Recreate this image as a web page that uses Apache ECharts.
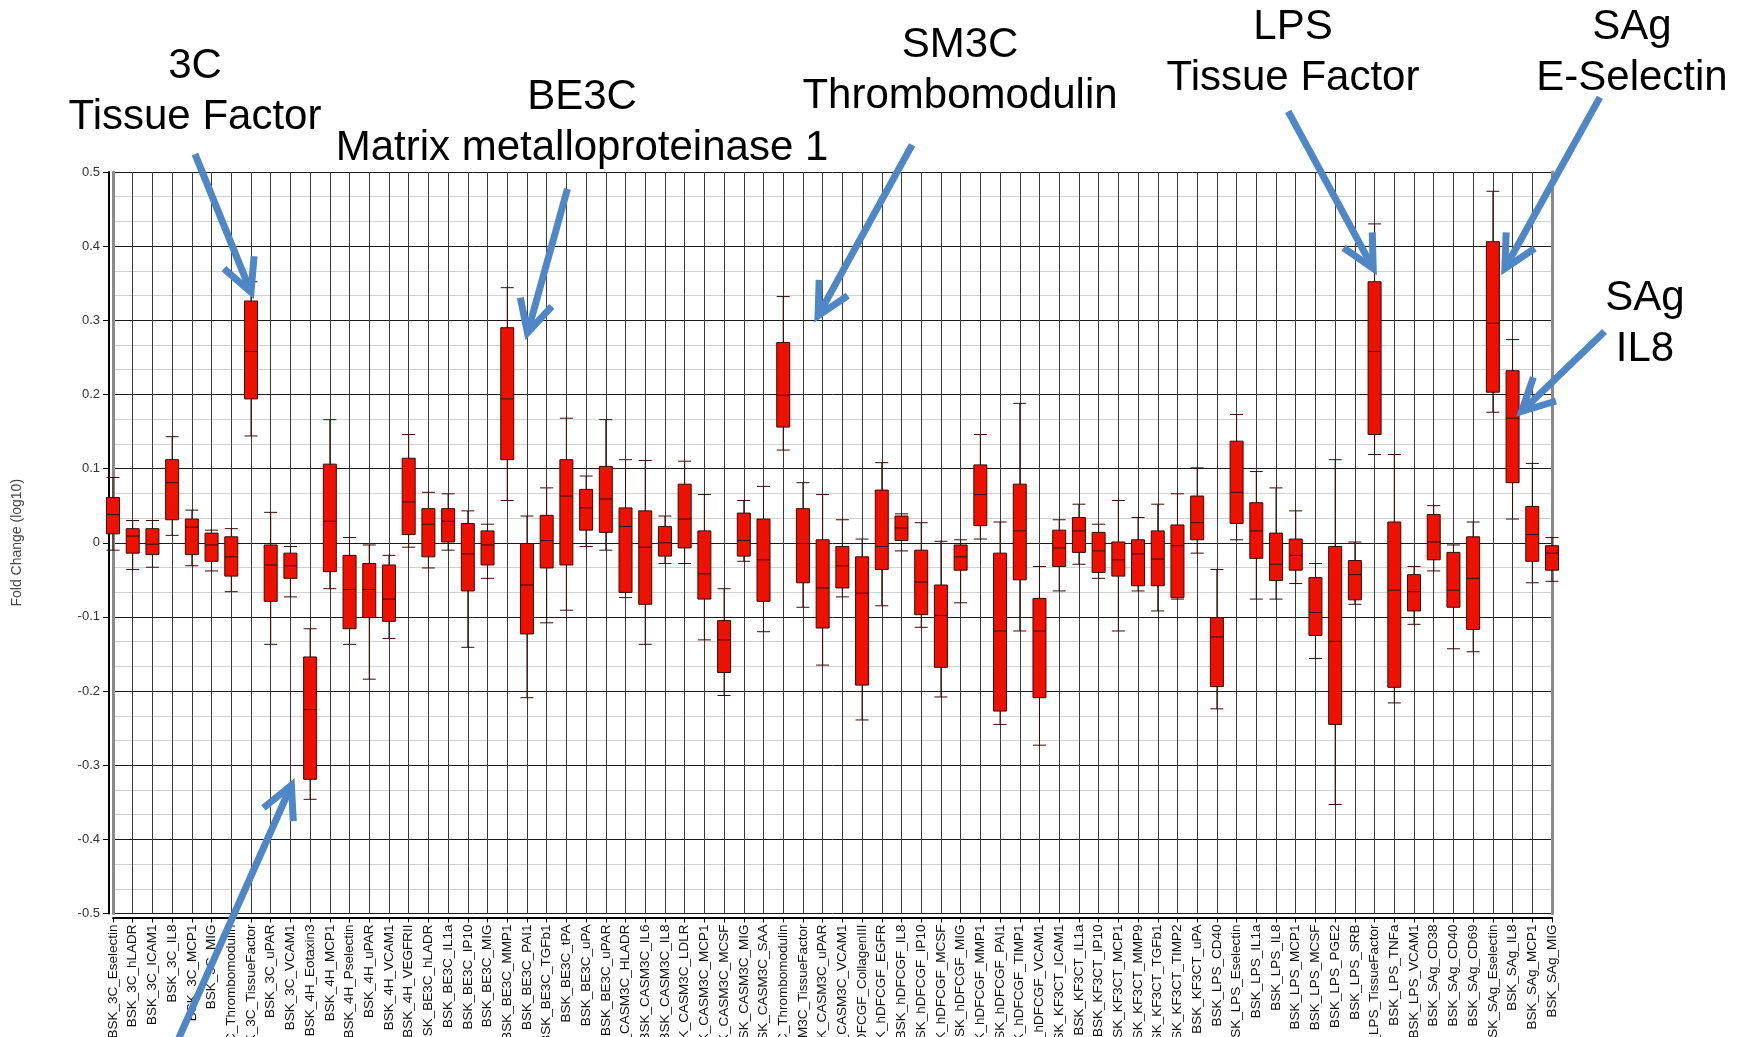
<!DOCTYPE html>
<html>
<head>
<meta charset="utf-8">
<script src="https://cdn.jsdelivr.net/npm/echarts@6/dist/echarts.min.js"></script>
<style>
  html, body { margin: 0; padding: 0; background: #ffffff; }
  #chart { width: 1748px; height: 1037px; }
</style>
</head>
<body>
<div id="chart"></div>
<script>
// BioMAP readouts (rows) and the spread of their fold change (log10)
const categories = [
  'BSK_3C_Eselectin', 'BSK_3C_hLADR', 'BSK_3C_ICAM1', 'BSK_3C_IL8', 'BSK_3C_MCP1',
  'BSK_3C_MIG', 'BSK_3C_Thrombomodulin', 'BSK_3C_TissueFactor', 'BSK_3C_uPAR', 'BSK_3C_VCAM1',
  'BSK_4H_Eotaxin3', 'BSK_4H_MCP1', 'BSK_4H_Pselectin', 'BSK_4H_uPAR', 'BSK_4H_VCAM1',
  'BSK_4H_VEGFRII', 'BSK_BE3C_hLADR', 'BSK_BE3C_IL1a', 'BSK_BE3C_IP10', 'BSK_BE3C_MIG',
  'BSK_BE3C_MMP1', 'BSK_BE3C_PAI1', 'BSK_BE3C_TGFb1', 'BSK_BE3C_tPA', 'BSK_BE3C_uPA',
  'BSK_BE3C_uPAR', 'BSK_CASM3C_HLADR', 'BSK_CASM3C_IL6', 'BSK_CASM3C_IL8', 'BSK_CASM3C_LDLR',
  'BSK_CASM3C_MCP1', 'BSK_CASM3C_MCSF', 'BSK_CASM3C_MIG', 'BSK_CASM3C_SAA', 'BSK_CASM3C_Thrombomodulin',
  'BSK_CASM3C_TissueFactor', 'BSK_CASM3C_uPAR', 'BSK_CASM3C_VCAM1', 'BSK_hDFCGF_CollagenIII', 'BSK_hDFCGF_EGFR',
  'BSK_hDFCGF_IL8', 'BSK_hDFCGF_IP10', 'BSK_hDFCGF_MCSF', 'BSK_hDFCGF_MIG', 'BSK_hDFCGF_MMP1',
  'BSK_hDFCGF_PAI1', 'BSK_hDFCGF_TIMP1', 'BSK_hDFCGF_VCAM1', 'BSK_KF3CT_ICAM1', 'BSK_KF3CT_IL1a',
  'BSK_KF3CT_IP10', 'BSK_KF3CT_MCP1', 'BSK_KF3CT_MMP9', 'BSK_KF3CT_TGFb1', 'BSK_KF3CT_TIMP2',
  'BSK_KF3CT_uPA', 'BSK_LPS_CD40', 'BSK_LPS_Eselectin', 'BSK_LPS_IL1a', 'BSK_LPS_IL8',
  'BSK_LPS_MCP1', 'BSK_LPS_MCSF', 'BSK_LPS_PGE2', 'BSK_LPS_SRB', 'BSK_LPS_TissueFactor',
  'BSK_LPS_TNFa', 'BSK_LPS_VCAM1', 'BSK_SAg_CD38', 'BSK_SAg_CD40', 'BSK_SAg_CD69',
  'BSK_SAg_Eselectin', 'BSK_SAg_IL8', 'BSK_SAg_MCP1', 'BSK_SAg_MIG'
];

const whiskerHigh = [
  0.088, 0.030, 0.030, 0.143, 0.044, 0.017, 0.019, 0.352, 0.041, -0.005,
  -0.116, 0.166, 0.007, -0.003, -0.017, 0.146, 0.068, 0.066, 0.043, 0.025,
  0.344, 0.036, 0.074, 0.168, 0.090, 0.166, 0.112, 0.111, 0.036, 0.110,
  0.065, -0.062, 0.057, 0.076, 0.332, 0.081, 0.065, 0.031, 0.005, 0.108,
  0.039, 0.027, 0.002, 0.004, 0.146, 0.028, 0.188, -0.032, 0.031, 0.052,
  0.025, 0.057, 0.034, 0.052, 0.066, 0.101, -0.036, 0.173, 0.096, 0.074,
  0.043, -0.028, 0.112, 0.001, 0.430, 0.119, -0.032, 0.050, -0.003, 0.028,
  0.474, 0.274, 0.107, 0.007
];

const upperQuartile = [
  0.061, 0.019, 0.019, 0.112, 0.032, 0.013, 0.008, 0.326, -0.003, -0.014,
  -0.154, 0.106, -0.017, -0.028, -0.030, 0.114, 0.046, 0.046, 0.026, 0.016,
  0.290, -0.001, 0.037, 0.112, 0.072, 0.103, 0.047, 0.043, 0.022, 0.079,
  0.016, -0.105, 0.040, 0.032, 0.270, 0.046, 0.004, -0.005, -0.019, 0.071,
  0.036, -0.010, -0.057, -0.003, 0.105, -0.014, 0.079, -0.075, 0.017, 0.034,
  0.014, 0.001, 0.004, 0.016, 0.024, 0.063, -0.101, 0.137, 0.054, 0.013,
  0.005, -0.047, -0.005, -0.024, 0.352, 0.028, -0.043, 0.038, -0.013, 0.008,
  0.406, 0.232, 0.049, -0.004
];

const medians = [
  0.038, 0.009, -0.002, 0.081, 0.021, -0.003, -0.019, 0.258, -0.030, -0.031,
  -0.225, 0.029, -0.063, -0.063, -0.076, 0.055, 0.025, 0.029, -0.015, -0.003,
  0.194, -0.057, 0.003, 0.063, 0.047, 0.059, 0.022, -0.006, 0.000, 0.032,
  -0.042, -0.131, 0.003, -0.023, 0.199, -0.001, -0.061, -0.031, -0.068, -0.005,
  0.020, -0.053, -0.098, -0.019, 0.065, -0.119, 0.016, -0.119, -0.007, 0.016,
  -0.011, -0.023, -0.015, -0.022, -0.004, 0.027, -0.127, 0.068, 0.016, -0.029,
  -0.017, -0.094, -0.133, -0.043, 0.258, -0.064, -0.066, 0.001, -0.064, -0.048,
  0.296, 0.168, 0.011, -0.014
];

const lowerQuartile = [
  0.012, -0.014, -0.016, 0.031, -0.016, -0.025, -0.045, 0.194, -0.079, -0.048,
  -0.319, -0.039, -0.116, -0.101, -0.106, 0.011, -0.019, 0.001, -0.065, -0.030,
  0.112, -0.123, -0.034, -0.030, 0.017, 0.014, -0.067, -0.083, -0.018, -0.007,
  -0.076, -0.175, -0.018, -0.079, 0.156, -0.054, -0.115, -0.061, -0.192, -0.036,
  0.003, -0.097, -0.168, -0.037, 0.023, -0.227, -0.050, -0.209, -0.032, -0.013,
  -0.040, -0.045, -0.058, -0.058, -0.074, 0.004, -0.194, 0.026, -0.021, -0.051,
  -0.037, -0.125, -0.245, -0.077, 0.146, -0.195, -0.092, -0.023, -0.087, -0.117,
  0.203, 0.081, -0.025, -0.037
];

const whiskerLow = [
  -0.010, -0.036, -0.033, 0.010, -0.031, -0.038, -0.066, 0.144, -0.137, -0.073,
  -0.346, -0.062, -0.137, -0.184, -0.129, -0.006, -0.034, -0.010, -0.141, -0.048,
  0.057, -0.209, -0.108, -0.091, -0.005, -0.010, -0.074, -0.137, -0.028, -0.028,
  -0.131, -0.206, -0.025, -0.120, 0.125, -0.087, -0.165, -0.073, -0.239, -0.085,
  -0.011, -0.114, -0.208, -0.081, 0.005, -0.245, -0.119, -0.273, -0.065, -0.029,
  -0.048, -0.119, -0.065, -0.092, -0.076, -0.014, -0.224, 0.004, -0.076, -0.076,
  -0.055, -0.156, -0.353, -0.083, 0.119, -0.216, -0.110, -0.038, -0.143, -0.147,
  0.176, 0.032, -0.054, -0.052
];

// value axis range and tick step
const yMin = -0.5;
const yMax = 0.5;
const yStep = 0.1;

// highlighted readouts: label lines, label centre, and arrow pointing at a row
const callouts = [
  { lines: ['3C', 'Tissue Factor'], cx: 195, cy: 66,
    arrow: { row: 'BSK_3C_TissueFactor', value: 0.338, dx: 0, tail: [-56, -138] } },
  { lines: [], cx: 0, cy: 0,
    arrow: { row: 'BSK_3C_VCAM1', value: -0.327, dx: 1, tail: [-118, 265] } },
  { lines: ['BE3C', 'Matrix metalloproteinase 1'], cx: 582, cy: 97,
    arrow: { row: 'BSK_BE3C_PAI1', value: 0.283, dx: 0.5, tail: [40, -144] } },
  { lines: ['SM3C', 'Thrombomodulin'], cx: 960, cy: 45,
    arrow: { row: 'BSK_CASM3C_uPAR', value: 0.306, dx: -4.6, tail: [94, -171] } },
  { lines: ['LPS', 'Tissue Factor'], cx: 1293, cy: 27,
    arrow: { row: 'BSK_LPS_TissueFactor', value: 0.370, dx: -1.4, tail: [-85, -157] } },
  { lines: ['SAg', 'E-Selectin'], cx: 1632, cy: 27,
    arrow: { row: 'BSK_SAg_IL8', value: 0.370, dx: -7.7, tail: [95, -171] } },
  { lines: ['SAg', 'IL8'], cx: 1645, cy: 298,
    arrow: { row: 'BSK_SAg_IL8', value: 0.177, dx: 9, tail: [83, -80] } }
];

const boxData = categories.map((_, i) => [
  whiskerLow[i], lowerQuartile[i], medians[i], upperQuartile[i], whiskerHigh[i]
]);

const FONT = '"Liberation Sans", Arial, Helvetica, sans-serif';
const chart = echarts.init(document.getElementById('chart'), null, { renderer: 'canvas' });

const hiddenAxisBits = {
  axisLabel: { show: false }, axisTick: { show: false },
  splitLine: { show: false }, minorSplitLine: { show: false }
};

chart.setOption({
  animation: false,
  backgroundColor: '#ffffff',
  grid: {
    left: 113, right: 196, top: 172, bottom: 123.5,
    containLabel: false,
    outerBoundsMode: 'none'
  },
  xAxis: {
    type: 'category',
    data: categories,
    boundaryGap: false,
    offset: 4,
    name: 'Row',
    nameLocation: 'middle',
    nameGap: 96,
    nameTextStyle: { fontFamily: FONT, fontSize: 14, color: '#333' },
    axisLine: { show: true, onZero: false, lineStyle: { color: '#000', width: 2 } },
    axisTick: { show: true, interval: 0, length: 5, lineStyle: { color: '#000', width: 1 } },
    axisLabel: {
      interval: 0, rotate: 90, margin: 7,
      fontFamily: FONT, fontSize: 13.5, color: '#111',
      hideOverlap: false
    },
    splitLine: { show: true, interval: 0, lineStyle: { color: '#3a3a3a', width: 1 } }
  },
  yAxis: [
    {
      type: 'value',
      position: 'left',
      min: yMin, max: yMax, interval: yStep,
      offset: 4,
      name: 'Fold Change (log10)',
      nameLocation: 'middle',
      nameRotate: 90,
      nameGap: 85,
      nameTextStyle: { fontFamily: FONT, fontSize: 14, color: '#444' },
      axisLine: { show: true, onZero: false, lineStyle: { color: '#000', width: 2 } },
      axisTick: { show: true, length: 6, lineStyle: { color: '#000', width: 1 } },
      axisLabel: {
        margin: 9, fontFamily: FONT, fontSize: 13, color: '#333',
        formatter: v => String(Number(v.toFixed(1)))
      },
      splitLine: { show: true, lineStyle: { color: '#1a1a1a', width: 1 } },
      minorTick: { show: false, splitNumber: 3 },
      minorSplitLine: { show: true, lineStyle: { color: '#d2d2d2', width: 1.2 } }
    },
    Object.assign({
      type: 'value', position: 'left', min: yMin, max: yMax, offset: 0,
      axisLine: { show: true, onZero: false, lineStyle: { color: '#8a8a8a', width: 3 } }
    }, hiddenAxisBits),
    Object.assign({
      type: 'value', position: 'right', min: yMin, max: yMax, offset: 0,
      axisLine: { show: true, onZero: false, lineStyle: { color: '#8a8a8a', width: 3 } }
    }, hiddenAxisBits)
  ],
  series: [{
    type: 'boxplot',
    yAxisIndex: 0,
    data: boxData,
    boxWidth: [13, 13],
    itemStyle: { color: '#ee1100', borderColor: '#3a0b06', borderWidth: 1 },
    emphasis: { disabled: true }
  }]
});

// callout labels and blue arrows drawn on top of the plot
function buildGraphics() {
  const BLUE = '#4f86c6';
  const items = [];
  callouts.forEach(c => {
    c.lines.forEach((line, k) => {
      items.push({
        type: 'text', z: 100,
        x: c.cx, y: c.cy + k * 51,
        style: {
          text: line, font: '42px ' + FONT, fill: '#000',
          align: 'center', verticalAlign: 'middle'
        }
      });
    });
    const a = c.arrow;
    const p = chart.convertToPixel({ seriesIndex: 0 }, [a.row, a.value]);
    const tip = [p[0] + a.dx, p[1]];
    const tail = [tip[0] + a.tail[0], tip[1] + a.tail[1]];
    const ang = Math.atan2(tail[1] - tip[1], tail[0] - tip[0]);
    const len = 36, half = 27 * Math.PI / 180;
    const arm1 = [tip[0] + len * Math.cos(ang + half), tip[1] + len * Math.sin(ang + half)];
    const arm2 = [tip[0] + len * Math.cos(ang - half), tip[1] + len * Math.sin(ang - half)];
    items.push({
      type: 'polyline', z: 100,
      shape: { points: [tail, tip] },
      style: { stroke: BLUE, lineWidth: 7, fill: null }
    });
    items.push({
      type: 'polyline', z: 100,
      shape: { points: [arm1, tip, arm2] },
      style: { stroke: BLUE, lineWidth: 7, fill: null, lineJoin: 'miter' }
    });
  });
  chart.setOption({ graphic: { elements: items } });
}
buildGraphics();
</script>
</body>
</html>
